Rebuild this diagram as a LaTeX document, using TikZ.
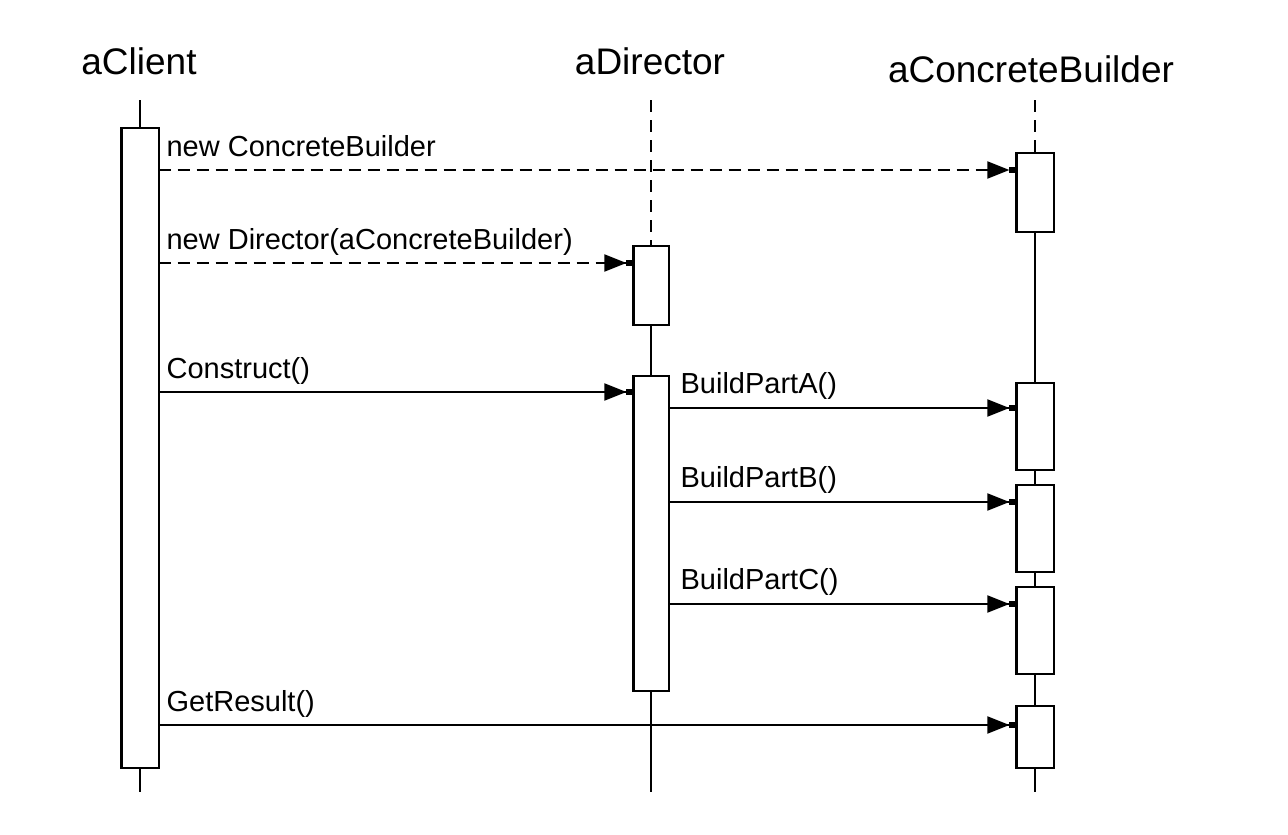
\documentclass[tikz,border=0pt]{standalone}
\usepackage{fontspec}
\setmainfont{Liberation Sans}
\usetikzlibrary{arrows.meta}

\tikzset{
  objname/.style={font=\fontsize{37}{40}\selectfont, inner sep=0pt, anchor=base},
  msglabel/.style={font=\fontsize{29}{32}\selectfont, inner sep=0pt, anchor=base west},
  actbox/.style={draw, line width=2.2pt, fill=white, minimum width=35pt, inner sep=0pt, anchor=north},
  life/.style={line width=2pt},
  lifedash/.style={line width=2pt, dash pattern=on 12pt off 8pt},
  call/.style={line width=2pt, -{Triangle[length=22pt,width=17pt]Rectangle[length=7pt,width=6pt]}},
  create/.style={call, dash pattern=on 12pt off 7pt},
}

\begin{document}
\begin{tikzpicture}[x=1pt, y=-1pt, line join=miter]
\useasboundingbox (0,0) rectangle (1288,835);

% object names
\node[objname] (nclient) at (139,74) {aClient};
\node[objname] (ndirector) at (650,74) {aDirector};
\node[objname] (nbuilder) at (1031,82) {aConcreteBuilder};

% lifeline ends
\coordinate (ctop) at (140,100);
\coordinate (cend) at (140,792);
\coordinate (dtop) at (651,100);
\coordinate (dend) at (651,792);
\coordinate (btop) at (1035,100);
\coordinate (bend) at (1035,792);

% activation boxes
\node[actbox, minimum height=638pt] (c1) at (140,128) {};
\node[actbox, minimum height=77pt, minimum width=33pt] (d1) at (651,246) {};
\node[actbox, minimum height=313pt, minimum width=33pt] (d2) at (651,376) {};
\node[actbox, minimum height=77pt] (b1) at (1035,153) {};
\node[actbox, minimum height=85pt] (b2) at (1035,383) {};
\node[actbox, minimum height=85pt] (b3) at (1035,485) {};
\node[actbox, minimum height=85pt] (b4) at (1035,587) {};
\node[actbox, minimum height=60pt] (b5) at (1035,706) {};

% lifelines
\draw[life] (ctop) -- (c1.north);
\draw[life] (c1.south) -- (cend);
\draw[lifedash] (dtop) -- (d1.north);
\draw[life] (d1.south) -- (d2.north);
\draw[life] (d2.south) -- (dend);
\draw[lifedash] (btop) -- (b1.north);
\draw[life] (b1.south) -- (b2.north);
\draw[life] (b2.south) -- (b3.north);
\draw[life] (b3.south) -- (b4.north);
\draw[life] (b4.south) -- (b5.north);
\draw[life] (b5.south) -- (bend);

% redraw boxes on top of the lifelines
\foreach \b in {c1,d1,d2,b1,b2,b3,b4,b5} {
  \draw[line width=2.2pt, fill=white] (\b.north west) rectangle (\b.south east);
}

% messages
\draw[create] (c1.east |- 0,170) -- (b1.west |- 0,170)
  node[msglabel, pos=0, xshift=7pt, yshift=14pt] {new ConcreteBuilder};
\draw[create] (c1.east |- 0,263) -- (d1.west |- 0,263)
  node[msglabel, pos=0, xshift=7pt, yshift=14pt] {new Director(aConcreteBuilder)};
\draw[call] (c1.east |- 0,392) -- (d2.west |- 0,392)
  node[msglabel, pos=0, xshift=7pt, yshift=14pt] {Construct()};
\draw[call] (d2.east |- 0,408) -- (b2.west |- 0,408)
  node[msglabel, pos=0, xshift=11pt, yshift=15pt] {BuildPartA()};
\draw[call] (d2.east |- 0,502) -- (b3.west |- 0,502)
  node[msglabel, pos=0, xshift=11pt, yshift=15pt] {BuildPartB()};
\draw[call] (d2.east |- 0,604) -- (b4.west |- 0,604)
  node[msglabel, pos=0, xshift=11pt, yshift=15pt] {BuildPartC()};
\draw[call] (c1.east |- 0,725) -- (b5.west |- 0,725)
  node[msglabel, pos=0, xshift=7pt, yshift=14pt] {GetResult()};
\end{tikzpicture}
\end{document}
